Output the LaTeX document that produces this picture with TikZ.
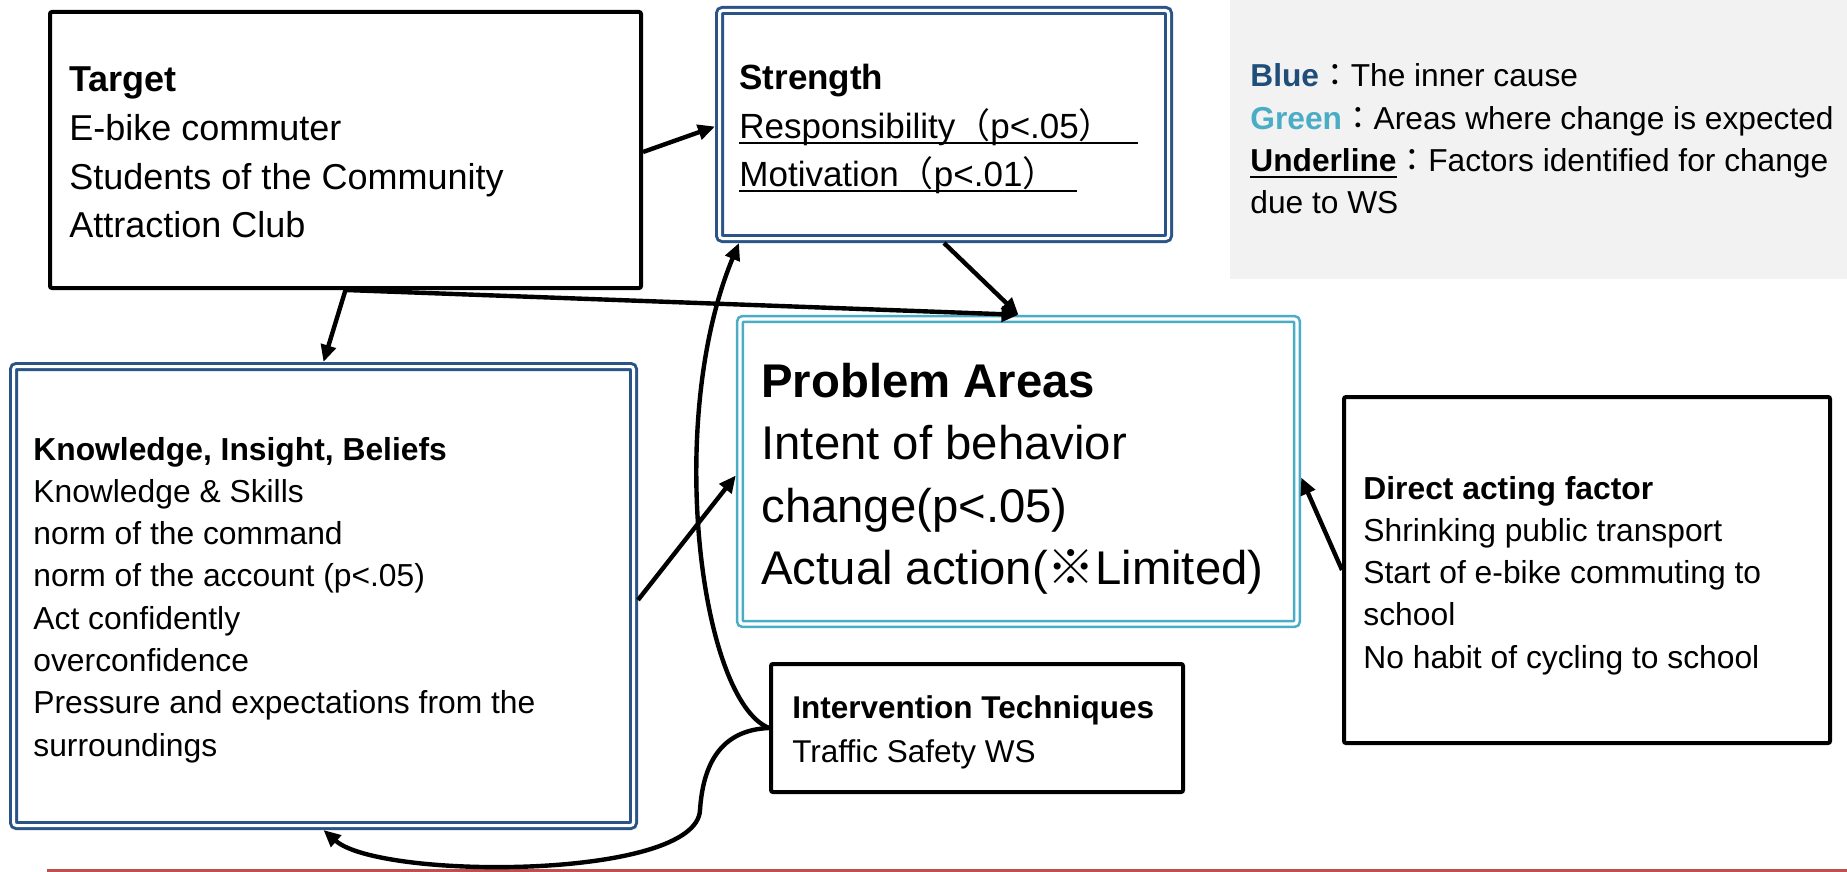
\documentclass[tikz,border=0pt]{standalone}
\usepackage{fontspec}
\setmainfont{Liberation Sans}
\newfontfamily\cjk{Noto Sans CJK JP}
\newfontfamily\cjktc{Noto Sans CJK TC}
\usetikzlibrary{arrows.meta}
\definecolor{navy}{HTML}{2A5388}
\definecolor{tealc}{HTML}{4BACC6}
\definecolor{legbg}{HTML}{F2F2F2}
\definecolor{legblue}{HTML}{1F4E79}
\definecolor{redline}{HTML}{C0504D}
\newcommand\myul[3]{\setbox0\hbox{#1\hspace{#2}}\rlap{\rule[#3]{\wd0}{1pt}}\box0}
\newcommand\txtblock[3]{{\fontsize{#1}{#2}\selectfont\begin{tabular}[t]{@{}l@{}}#3\end{tabular}}}
\newcommand\fwcolon{{\cjktc ：}}
\begin{document}
\begin{tikzpicture}[x=0.5pt,y=-0.5pt,
  blackbox/.style={draw=black, line width=2pt, rounded corners=1pt, outer sep=1pt, inner sep=0pt},
  bluebox/.style={draw=navy, double=white, line width=1.5pt, double distance=1.5pt, rounded corners=1.5pt, outer sep=2.25pt, inner sep=0pt},
  tealbox/.style={draw=tealc, double=white, line width=1.3pt, double distance=1.6pt, rounded corners=1.5pt, outer sep=2.1pt, inner sep=0pt},
  txt/.style={anchor=base west, inner sep=0pt},
  conn/.style={line width=2.2pt, -{Triangle[length=8.5pt,width=7.5pt]}}]
\useasboundingbox (0,0) rectangle (1847,872);
% legend background
\node[fill=legbg, minimum width=308.5pt, minimum height=139.5pt, inner sep=0pt] (legend) at (1538.5,139.5) {};
% bottom line
\draw[redline, line width=1.5pt] (47,870) -- (1847,870);
% boxes
\node[blackbox, minimum width=295.5pt, minimum height=138pt] (target) at (345.5,150) {};
\node[bluebox, minimum width=224.5pt, minimum height=114pt] (strength) at (944,124.5) {};
\node[bluebox, minimum width=310pt, minimum height=229.5pt] (knowledge) at (323.5,596) {};
\node[tealbox, minimum width=278.5pt, minimum height=152.5pt] (problem) at (1018.5,471.5) {};
\node[blackbox, minimum width=206pt, minimum height=64pt] (interv) at (977,728) {};
\node[blackbox, minimum width=243pt, minimum height=173pt] (direct) at (1587,570) {};
% texts
\node[txt] (ttarget) at (69,92) {\txtblock{18pt}{24.25pt}{\textbf{Target}\\E-bike commuter\\Students of the Community\\Attraction Club}};
\node[txt] (tstrength) at (739,90) {\txtblock{17.5pt}{24.25pt}{\textbf{Strength}\\\myul{Responsibility{\cjk （}p<.05{\cjk ）}}{12pt}{-2.7pt}\\\myul{Motivation{\cjk （}p<.01{\cjk ）}}{10pt}{-2.7pt}}};
\node[txt] (tlegend) at (1250,87) {\txtblock{15.85pt}{21.15pt}{\textbf{\textcolor{legblue}{Blue}}\fwcolon The inner cause\\\textbf{\textcolor{tealc}{Green}}\fwcolon Areas where change is expected\\\myul{\textbf{Underline}}{0pt}{-3.2pt}\fwcolon Factors identified for change\\due to WS}};
\node[txt] (tknowledge) at (33,460) {\txtblock{15.9pt}{21.15pt}{\textbf{Knowledge, Insight, Beliefs}\\Knowledge \& Skills\\norm of the command\\norm of the account (p<.05)\\Act confidently\\overconfidence\\Pressure and expectations from the\\surroundings}};
\node[txt] (tproblem) at (761,397) {\txtblock{23.65pt}{31.25pt}{\textbf{Problem Areas}\\Intent of behavior\\change(p<.05)\\Actual action({\cjk ※}Limited)}};
\node[txt] (tinterv) at (792,718) {\txtblock{15.75pt}{22pt}{\textbf{Intervention Techniques}\\Traffic Safety WS}};
\node[txt] (tdirect) at (1363,499) {\txtblock{15.9pt}{21.15pt}{\textbf{Direct acting factor}\\Shrinking public transport\\Start of e-bike commuting to\\school\\No habit of cycling to school}};
% connectors
\draw[conn] ([yshift=-1pt]target.east) -- ([yshift=-1pt]strength.west);
\draw[conn] (target.south) -- (knowledge.north);
\draw[conn] (target.south) -- (problem.north);
\draw[conn] (strength.south) -- (problem.north);
\draw[conn] ([yshift=-2pt]knowledge.east) -- ([yshift=-2pt]problem.west);
\draw[conn] (direct.west) -- ([yshift=-3pt]problem.east);
\draw[conn] (interv.west) .. controls (700,700) and (665,420) .. ([xshift=12pt]strength.south west);
\draw[conn] (interv.west) .. controls (720,730) and (703,765) .. (700,810) .. controls (697,880) and (380,880) .. (knowledge.south);
\end{tikzpicture}
\end{document}
